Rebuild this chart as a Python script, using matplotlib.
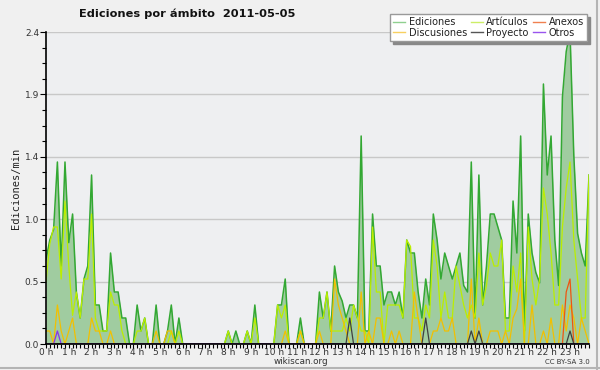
import matplotlib
matplotlib.use("Agg")
import matplotlib.pyplot as plt
from matplotlib.lines import Line2D
import numpy as np

# 10-minute bins over the day (0..143)
hours = list(range(24))
hour_labels = [f"{h} h" for h in hours]

ediciones = [0.65, 0.8, 0.88, 1.4, 0.6, 1.4, 0.78, 1.0, 0.4, 0.2, 0.5, 0.6,
             1.3, 0.3, 0.3, 0.1, 0.1, 0.7, 0.4, 0.4, 0.2, 0.2, 0, 0,
             0.3, 0.1, 0.2, 0, 0, 0.3, 0, 0, 0.1, 0.3, 0, 0.2,
             0, 0, 0, 0, 0, 0, 0, 0, 0, 0, 0, 0,
             0.1, 0, 0.1, 0, 0, 0.1, 0, 0.3, 0, 0, 0, 0,
             0, 0.3, 0.3, 0.5, 0, 0, 0, 0.2, 0, 0, 0, 0,
             0.4, 0.2, 0.4, 0.1, 0.6, 0.4, 0.33, 0.2, 0.3, 0.3, 0.2, 1.6,
             0.1, 0.1, 1.0, 0.6, 0.6, 0.3, 0.4, 0.4, 0.3, 0.4, 0.2, 0.8,
             0.7, 0.7, 0.4, 0.2, 0.5, 0.3, 1.0, 0.8, 0.5, 0.7, 0.6, 0.5,
             0.6, 0.7, 0.45, 0.4, 1.4, 0.2, 1.3, 0.3, 0.6, 1.0, 1.0, 0.9,
             0.8, 0.2, 0.2, 1.1, 0.7, 1.6, 0.1, 1.0, 0.7, 0.55, 0.47, 2.0,
             1.3, 1.6, 0.8, 0.45, 1.9, 2.25, 2.4, 1.45, 0.85, 0.7, 0.6, 1.3]

articulos = [0.48, 0.77, 0.9, 0.9, 0.5, 1.1, 0.6, 0.22, 0.4, 0.2, 0.5, 0.5,
             1.0, 0.2, 0.1, 0.1, 0.1, 0.4, 0.3, 0.3, 0.1, 0, 0, 0,
             0.1, 0.1, 0.2, 0, 0, 0, 0, 0, 0, 0.1, 0, 0.1,
             0, 0, 0, 0, 0, 0, 0, 0, 0, 0, 0, 0,
             0.1, 0, 0, 0, 0, 0.1, 0, 0.2, 0, 0, 0, 0,
             0, 0.3, 0.2, 0.3, 0, 0, 0, 0.1, 0, 0, 0, 0,
             0.2, 0.2, 0.4, 0.1, 0.1, 0.1, 0.1, 0.2, 0.1, 0.3, 0.2, 0.1,
             0.1, 0, 0.9, 0.4, 0.4, 0, 0.3, 0.3, 0.3, 0.3, 0.2, 0.8,
             0.75, 0.2, 0.2, 0.1, 0.3, 0.2, 0.8, 0.6, 0.2, 0.4, 0.2, 0.2,
             0.6, 0.45, 0.3, 0.2, 0.3, 0.2, 0.7, 0.3, 0.45, 0.7, 0.6, 0.6,
             0.8, 0.1, 0.1, 0.6, 0.4, 0.7, 0, 0.9, 0.5, 0.3, 0.5, 1.2,
             1.0, 0.7, 0.3, 0.3, 0.9, 1.2, 1.4, 0.8, 0.5, 0.2, 0.2, 1.3]

discusiones = [0.1, 0.1, 0, 0.3, 0.1, 0, 0.1, 0.2, 0, 0, 0, 0,
               0.2, 0.1, 0.1, 0, 0, 0.1, 0, 0, 0, 0, 0, 0,
               0, 0, 0, 0, 0, 0.1, 0, 0, 0.1, 0.1, 0, 0,
               0, 0, 0, 0, 0, 0, 0, 0, 0, 0, 0, 0,
               0, 0, 0, 0, 0, 0, 0, 0, 0, 0, 0, 0,
               0, 0, 0, 0.1, 0, 0, 0, 0.1, 0, 0, 0, 0,
               0.1, 0, 0, 0, 0.5, 0.3, 0.2, 0.1, 0, 0, 0, 0.4,
               0, 0.1, 0, 0.2, 0.2, 0, 0, 0.1, 0, 0.1, 0, 0,
               0, 0.4, 0.2, 0, 0, 0, 0.1, 0.1, 0.2, 0.1, 0.1, 0.2,
               0, 0, 0, 0, 0.5, 0, 0.2, 0, 0, 0.1, 0.1, 0.1,
               0, 0.1, 0, 0.2, 0.27, 0.5, 0, 0, 0.3, 0, 0, 0.1,
               0, 0.2, 0, 0, 0.3, 0.1, 0.3, 0.2, 0, 0.2, 0.1, 0]

anexos = [0] * 137 + [0.4, 0.5, 0, 0, 0, 0, 0]

proyecto = [0] * 144
for i, v in [(80, 0.2), (100, 0.2), (112, 0.1), (114, 0.1), (138, 0.1)]:
    proyecto[i] = v

otros = [0] * 144
otros[3] = 0.1

x = np.arange(len(ediciones))

fig = plt.figure(figsize=(6, 3.7), dpi=100, facecolor="#f0f0f0")
ax = fig.add_axes([46/600, 26/370, 543/600, 312/370])
ax.set_facecolor("#eeeff1")

ax.fill_between(x, 0, ediciones, color="#a0cca0", lw=0, zorder=2)
ax.plot(x, ediciones, color="#33a833", lw=1.1, zorder=3)
ax.plot(x, articulos, color="#bbee00", lw=0.9, zorder=4)
ax.plot(x, discusiones, color="#f2c000", lw=0.9, zorder=5)
ax.plot(x, anexos, color="#ee5511", lw=0.9, zorder=6)
ax.plot(x, proyecto, color="#404040", lw=0.9, zorder=6)
ax.plot(x, otros, color="#8833ee", lw=0.9, zorder=7)

ax.set_xlim(0, 143)
ax.set_ylim(0, 2.4)
ax.set_xticks([6*h for h in hours])
ax.set_xticklabels(hour_labels)
ax.set_xticks(x, minor=True)
yt = np.arange(6) * 0.48
ax.set_yticks(yt)
ax.set_yticklabels([f"{v:.1f}" for v in yt])
ax.set_yticks(np.arange(21) * 0.12, minor=True)
ax.yaxis.grid(True, color="#c8c8c8", lw=1.0, zorder=1)
ax.set_axisbelow(True)

for s in ["top", "right"]:
    ax.spines[s].set_visible(False)
for s in ["left", "bottom"]:
    ax.spines[s].set_color("black")
    ax.spines[s].set_linewidth(1.2)
    ax.spines[s].set_zorder(10)

ax.tick_params(axis="both", which="both", direction="out", color="black",
               labelsize=6.5, labelcolor="#333333")
ax.tick_params(axis="x", which="major", length=3, width=0.8, pad=0)
ax.tick_params(axis="x", which="minor", length=3, width=0.8)
ax.tick_params(axis="y", which="major", length=4, width=0.8, pad=1)
ax.tick_params(axis="y", which="minor", length=3, width=0.8)

ax.set_ylabel("Ediciones/min", family="DejaVu Sans Mono", fontsize=7.5,
              color="#222222", labelpad=3)

fig.text(187/600, 1 - 14/370, "Ediciones por ámbito  2011-05-05",
         ha="center", va="center", fontsize=8.2, fontweight="bold", color="#111111")

fig.text(301/600, 1 - 362/370, "wikiscan.org", ha="center", va="center",
         fontsize=6.3, color="#333333")
fig.text(590/600, 1 - 362/370, "CC BY-SA 3.0", ha="right", va="center",
         fontsize=5, color="#333333")

handles = [Line2D([], [], color="#8fd08f", lw=1),
           Line2D([], [], color="#f7d060", lw=1),
           Line2D([], [], color="#ccee66", lw=1),
           Line2D([], [], color="#555555", lw=1),
           Line2D([], [], color="#f08050", lw=1),
           Line2D([], [], color="#9955ee", lw=1)]
labels = ["Ediciones", "Discusiones", "Artículos", "Proyecto", "Anexos", "Otros"]
leg = fig.legend(handles, labels, ncol=3, loc="upper right",
                 bbox_to_anchor=(592/600, 1 - 9/370), fontsize=7,
                 handlelength=1.2, handletextpad=0.4, columnspacing=0.4,
                 labelspacing=0.05, borderpad=0.35, fancybox=False,
                 edgecolor="#999999", facecolor="white", framealpha=1,
                 shadow={"color": "#888888", "alpha": 1})
for t in leg.get_texts():
    t.set_color("#222222")

fig.add_artist(Line2D([596.5/600, 596.5/600], [0, 1], color="#b4b4b4", lw=1.5,
                      transform=fig.transFigure))
fig.add_artist(Line2D([0, 1], [2.5/370, 2.5/370], color="#b4b4b4", lw=1.5,
                      transform=fig.transFigure))

fig.savefig("out.png", dpi=100, facecolor=fig.get_facecolor())
